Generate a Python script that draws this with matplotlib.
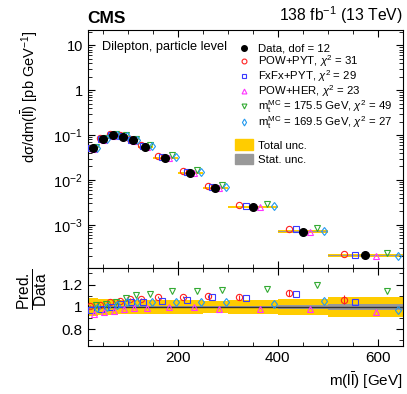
import numpy as np
import matplotlib.pyplot as plt
from matplotlib.lines import Line2D
from matplotlib.patches import Patch
from matplotlib.ticker import MultipleLocator, LogLocator, NullFormatter, FixedLocator

plt.rcParams['font.family'] = ['Liberation Sans', 'DejaVu Sans']
plt.rcParams['mathtext.fontset'] = 'custom'
plt.rcParams['mathtext.rm'] = 'Liberation Sans'
plt.rcParams['mathtext.it'] = 'Liberation Sans:italic'
plt.rcParams['mathtext.bf'] = 'Liberation Sans:bold'

# --- data ---
bin_edges = np.array([20, 40, 60, 80, 100, 120, 150, 200, 250, 300, 400, 500, 650])
data_xsec = np.array([0.052, 0.083, 0.100, 0.093, 0.076, 0.055, 0.031,
                      0.0144, 0.0066, 0.0025, 0.00071, 0.00021])
total_unc = np.array([0.08, 0.075, 0.07, 0.065, 0.06, 0.06, 0.06, 0.06, 0.055, 0.065, 0.075, 0.09])
stat_unc = np.array([0.006, 0.005, 0.005, 0.005, 0.005, 0.006, 0.006, 0.008, 0.01, 0.012, 0.02, 0.03])

ratio_pow_pyt = np.array([1.01, 1.02, 1.04, 1.055, 1.07, 1.075, 1.09, 1.09, 1.095, 1.085, 1.125, 1.065])
err_pow_pyt = np.array([0.005, 0.005, 0.005, 0.005, 0.006, 0.006, 0.008, 0.01, 0.015, 0.02, 0.03, 0.04])
ratio_fxfx_pyt = np.array([0.97, 0.98, 1.0, 1.025, 1.04, 1.045, 1.055, 1.065, 1.085, 1.08, 1.115, 1.04])
ratio_pow_her = np.array([0.94, 0.95, 0.96, 0.98, 0.99, 0.99, 0.995, 0.995, 0.985, 0.98, 0.98, 0.95])
ratio_mt1755 = np.array([1.02, 1.03, 1.045, 1.08, 1.105, 1.115, 1.14, 1.145, 1.155, 1.16, 1.2, 1.14])
ratio_mt1695 = np.array([0.99, 1.0, 1.02, 1.04, 1.045, 1.045, 1.045, 1.04, 1.04, 1.03, 1.05, 0.97])

models = [
    ('POW+PYT, $\\chi^2$ = 31', ratio_pow_pyt, 'o', '#ff2020', 1),
    ('FxFx+PYT, $\\chi^2$ = 29', ratio_fxfx_pyt, 's', '#3a3aff', 2),
    ('POW+HER, $\\chi^2$ = 23', ratio_pow_her, '^', '#ff33ff', 4),
    ('m$_{\\mathrm{t}}^{\\mathrm{MC}}$ = 175.5 GeV, $\\chi^2$ = 49', ratio_mt1755, 'v', '#33aa33', 5),
    ('m$_{\\mathrm{t}}^{\\mathrm{MC}}$ = 169.5 GeV, $\\chi^2$ = 27', ratio_mt1695, 'd', '#2299ee', 6),
]

lo = bin_edges[:-1]
width = np.diff(bin_edges)
def slot(i):
    return lo + (i + 0.5) / 7.0 * width

fig = plt.figure(figsize=(4.07, 3.94), dpi=100)
ax = fig.add_axes([0.2155, 0.320, 0.7745, 0.604])
rax = fig.add_axes([0.2155, 0.122, 0.7745, 0.198])

yellow = '#ffcc00'
grey = '#999999'

# main panel
for i in range(len(data_xsec)):
    xs = [bin_edges[i], bin_edges[i + 1]]
    ax.fill_between(xs, data_xsec[i] * (1 - total_unc[i]), data_xsec[i] * (1 + total_unc[i]),
                    color=yellow, lw=0, zorder=1)
    ax.fill_between(xs, data_xsec[i] * (1 - stat_unc[i]), data_xsec[i] * (1 + stat_unc[i]),
                    color=grey, lw=0, zorder=2)

for label, r, m, c, s in models:
    ax.plot(slot(s), data_xsec * r, ls='none', marker=m, ms=4.5, mfc='none', mec=c, mew=0.8, zorder=3)
    rax.plot(slot(s), r, ls='none', marker=m, ms=4.5, mfc='none', mec=c, mew=0.8, zorder=3)
rax.errorbar(slot(1), ratio_pow_pyt, yerr=err_pow_pyt, ls='none', color='#ff2020', lw=0.8, zorder=3)
ax.plot(slot(3), data_xsec, ls='none', marker='o', ms=5.5, color='black', zorder=4)

ax.set_xlim(20, 650)
ax.set_yscale('log')
ax.set_ylim(1.1e-4, 22)
ax.set_yticks([1e-3, 1e-2, 1e-1, 1, 10])
ax.set_yticklabels(['$10^{-3}$', '$10^{-2}$', '$10^{-1}$', '1', '10'])
ax.yaxis.set_minor_locator(LogLocator(base=10, subs=np.arange(2, 10), numticks=20))
ax.yaxis.set_minor_formatter(NullFormatter())
ax.xaxis.set_major_locator(MultipleLocator(200))
ax.xaxis.set_minor_locator(MultipleLocator(50))
ax.tick_params(axis='x', labelbottom=False)
ax.tick_params(axis='y', labelsize=10.5)
ax.set_ylabel('dσ/dm(l$\\bar{\\mathrm{l}}$) [pb GeV$^{-1}$]', fontsize=10.5, loc='top')
ax.yaxis.set_label_coords(-0.15, 1.0)

# ratio panel
ext = np.append(total_unc, total_unc[-1])
exs = np.append(stat_unc, stat_unc[-1])
rax.fill_between(bin_edges, 1 - ext, 1 + ext, step='post', color=yellow, lw=0, zorder=1)
rax.fill_between(bin_edges, 1 - exs, 1 + exs, step='post', color=grey, lw=0, zorder=2)
rax.axhline(1, color='#333333', lw=1, zorder=2)
rax.set_xlim(20, 650)
rax.set_ylim(0.65, 1.35)
rax.yaxis.set_major_locator(FixedLocator([0.8, 1.0, 1.2]))
rax.set_yticklabels(['0.8', '1', '1.2'])
rax.yaxis.set_minor_locator(MultipleLocator(0.1))
rax.xaxis.set_major_locator(MultipleLocator(200))
rax.xaxis.set_minor_locator(MultipleLocator(50))
rax.tick_params(labelsize=11)
rax.set_xlabel('m(l$\\bar{\\mathrm{l}}$) [GeV]', fontsize=11, loc='right')
rax.set_ylabel('$\\frac{\\mathrm{Pred.}}{\\mathrm{Data}}$', fontsize=16)
rax.yaxis.set_label_coords(-0.12, 0.73)

for a in (ax, rax):
    a.tick_params(which='both', direction='in', top=True, right=True)
    a.tick_params(which='major', length=5, width=0.8)
    a.tick_params(which='minor', length=3, width=0.6)

# legends: markers, then the uncertainty bands a bit lower
handles = [Line2D([], [], ls='none', marker='o', ms=4, color='black')]
labels = ['Data, dof = 12']
for label, r, m, c, s in models:
    handles.append(Line2D([], [], ls='none', marker=m, ms=3.5, mfc='none', mec=c, mew=0.8))
    labels.append(label)
leg1 = ax.legend(handles, labels, loc='upper left', bbox_to_anchor=(0.467, 0.943), frameon=False,
                 fontsize=8.2, handlelength=1.58, handleheight=0.8, handletextpad=0.41,
                 labelspacing=-0.07, borderaxespad=0, borderpad=0)
ax.add_artist(leg1)
ax.legend([Patch(color=yellow), Patch(color=grey)], ['Total unc.', 'Stat. unc.'],
          loc='upper left', bbox_to_anchor=(0.467, 0.54), frameon=False,
          fontsize=8.2, handlelength=1.58, handleheight=1.05, handletextpad=0.41,
          labelspacing=0.29, borderaxespad=0, borderpad=0)

ax.text(0.045, 0.955, 'Dilepton, particle level', transform=ax.transAxes, fontsize=9.2, va='top')
fig.text(0.2155, 0.935, 'CMS', fontsize=12.5, fontweight='bold', va='bottom')
fig.text(0.990, 0.935, '138 fb$^{-1}$ (13 TeV)', fontsize=11.3, ha='right', va='bottom')

fig.savefig('out.png', dpi=100)
